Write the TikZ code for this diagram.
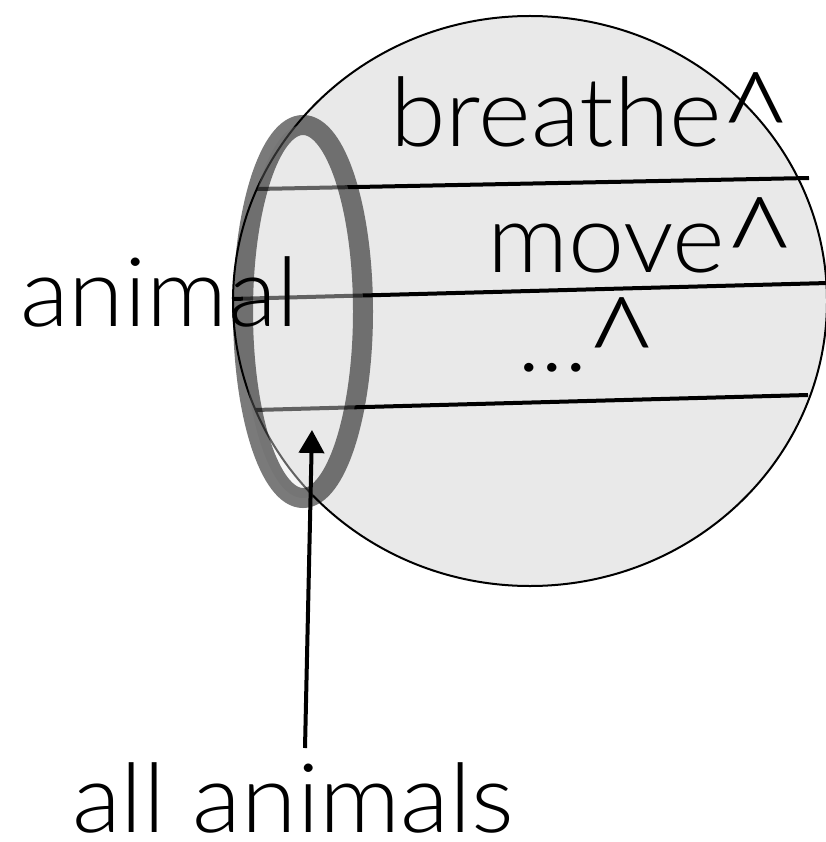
\documentclass[tikz,border=0pt]{standalone}
\usepackage{fontspec}
\usepackage{graphicx}
\setmainfont{Lato Light}[FakeStretch=1.05]
\usetikzlibrary{arrows.meta}
\definecolor{ballfill}{HTML}{E9E9E9}
\newcommand{\hatmark}{\kern-4pt\raisebox{-28pt}{\scalebox{1.32}[1.5]{\^{}}}}
\tikzset{
  lbl/.style={inner sep=0pt, anchor=base west, font=\fontsize{96}{110}\selectfont},
  band/.style={line width=4pt, black},
  ring/.style={line width=20pt, draw=black, draw opacity=0.52, fill=ballfill, fill opacity=0.42},
  pointer/.style={line width=4pt, -{Triangle[length=23pt,width=25pt]}}
}
\begin{document}
\begin{tikzpicture}[x=1pt,y=-1pt]
\useasboundingbox (0,0) rectangle (825,842);
% big ball
\draw[fill=ballfill, line width=2pt] (530,301) ellipse [x radius=297, y radius=285];
% bands
\draw[band] (257,189) -- (809,178);
\draw[band] (232,299) -- (828,283);
\draw[band] (255,410) -- (808,395);
% gray ring
\draw[ring] (303,311.5) ellipse [x radius=60, y radius=186.5];
% labels
\node[lbl] (breathe) at (390,147) {breathe\hatmark};
\node[lbl] (move) at (487,272) {move\hatmark};
\node[lbl] (etc) at (517,371) {...\hatmark};
\node[lbl] (animal) at (20,326) {animal};
\node[lbl] (allan) at (72,832) {all animals};
% pointer
\coordinate (tail) at (305,748);
\coordinate (tip) at (312,430);
\draw[pointer] (tail) -- (tip);
\end{tikzpicture}
\end{document}
